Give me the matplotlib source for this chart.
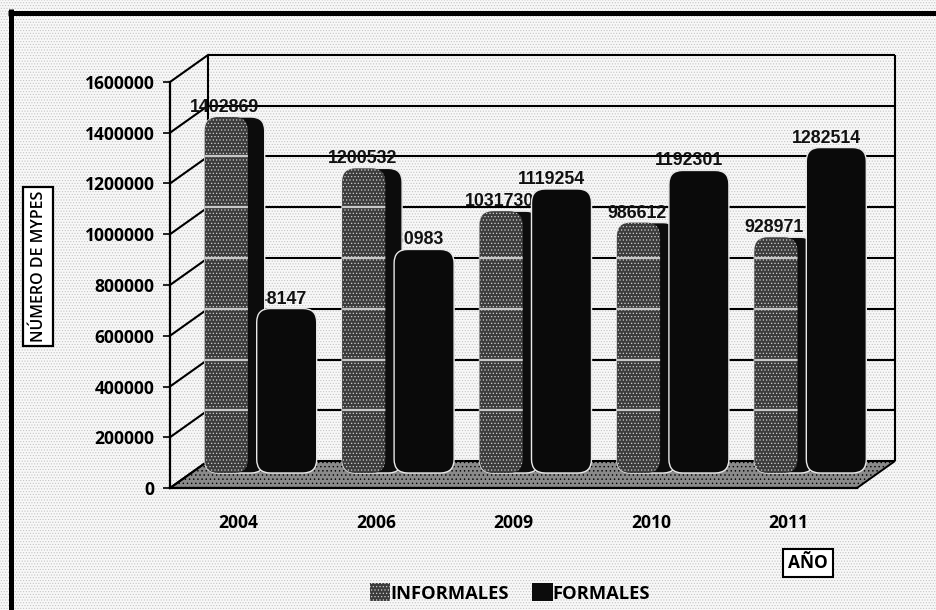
import matplotlib
matplotlib.use('Agg')
import matplotlib.pyplot as plt
from matplotlib.lines import Line2D
from matplotlib.patches import FancyBboxPatch, Patch, Polygon, Rectangle
from matplotlib.transforms import Affine2D, IdentityTransform

years = ['2004', '2006', '2009', '2010', '2011']
informales = [1402869, 1200532, 1031730, 986612, 928971]
formales = [648147, 880983, 1119254, 1192301, 1282514]
y_ticks = [0, 200000, 400000, 600000, 800000, 1000000, 1200000, 1400000, 1600000]

W, H = 936, 610
# front plane of the 3D box, in pixels
LEFT, RIGHT, BOTTOM, TOP = 170, 857, 488, 82
DEPTH_X, DEPTH_Y = 38, 27
BAR_DX, BAR_DY = 20, 15
YMAX = 1600000
AXIS_FONT = 'Open Sans'
LABEL_FONT = 'Liberation Sans'


def fx(px):
    return px / W


def fy(py):
    return (H - py) / H


plt.rcParams['hatch.linewidth'] = 0.5

fig = plt.figure(figsize=(W / 100, H / 100), dpi=100, facecolor='white')

# grainy paper behind everything
fig.add_artist(Rectangle((0, 0), 1, 1, transform=fig.transFigure, facecolor='#f8f8f8',
                         edgecolor='#c4c4c4', hatch='......', linewidth=0, zorder=-5))
fig.add_artist(Line2D([fx(10.5), fx(10.5)], [0, fy(9)], color='black', lw=3.6, solid_capstyle='butt'))
fig.add_artist(Line2D([fx(8), 1], [fy(13), fy(13)], color='black', lw=3.6, solid_capstyle='butt'))

ax = fig.add_axes([fx(LEFT), fy(BOTTOM), (RIGHT - LEFT) / W, (BOTTOM - TOP) / H])
ax.set_xlim(0, len(years))
ax.set_ylim(0, YMAX)
ax.patch.set_alpha(0)
for side in ['top', 'right']:
    ax.spines[side].set_visible(False)
for side in ['left', 'bottom']:
    ax.spines[side].set_linewidth(1.6)

ax.set_yticks(y_ticks)
ax.set_yticklabels([str(v) for v in y_ticks], fontfamily=AXIS_FONT, fontweight='bold', fontsize=12.6)
ax.set_xticks([i + 0.5 for i in range(len(years))])
ax.set_xticklabels(years, fontfamily=AXIS_FONT, fontweight='bold', fontsize=12.6)
ax.tick_params(axis='y', length=5, width=1.2, pad=6)
ax.tick_params(axis='x', length=0, pad=19)

back = ax.transData + Affine2D().translate(DEPTH_X, DEPTH_Y)
bar_tr = ax.transData + Affine2D().translate(BAR_DX, BAR_DY)
n = len(years)

# floor
floor = [ax.transData.transform((0, 0)), ax.transData.transform((n, 0)),
         back.transform((n, 0)), back.transform((0, 0))]
ax.add_patch(Polygon(floor, closed=True, transform=IdentityTransform(), facecolor='#8a8a8a',
                     edgecolor='black', hatch='....', lw=1.4, clip_on=False, zorder=1))

# back wall grid and side wall diagonals
ax.hlines(y_ticks, 0, n, transform=back, color='black', lw=1.5, clip_on=False, zorder=1)
ax.vlines([0, n], 0, YMAX, transform=back, color='black', lw=1.5, clip_on=False, zorder=1)
for v in y_ticks:
    p0 = ax.transData.transform((0, v))
    p1 = back.transform((0, v))
    ax.add_line(Line2D([p0[0], p1[0]], [p0[1], p1[1]], transform=IdentityTransform(),
                       color='black', lw=1.5, clip_on=False, zorder=1))

# bars: rounded boxes, widths in category units
x_per_px = n / (RIGHT - LEFT)
y_per_px = YMAX / (BOTTOM - TOP)
aspect = y_per_px / x_per_px
inf_left, inf_w = -54 * x_per_px, 60 * x_per_px
for_left, for_w = -2 * x_per_px, 60 * x_per_px
round_size = 0.1


def rounded_bar(x, w, h, color, hatch, z):
    bar = FancyBboxPatch((x, 0), w, h, boxstyle=f'round,pad=0,rounding_size={round_size}',
                         mutation_aspect=aspect, transform=bar_tr, facecolor=color,
                         edgecolor='#e8e8e8', hatch=hatch, lw=1.0, clip_on=False, zorder=z)
    ax.add_patch(bar)
    return bar


for i in range(n):
    c = i + 0.5
    # dark right side of the informal bar, lighter textured left part on top of it
    base = rounded_bar(c + inf_left, inf_w, informales[i], '#0c0c0c', None, 4)
    shade = FancyBboxPatch((c + inf_left, 0), inf_w * 0.72, informales[i],
                           boxstyle=f'round,pad=0,rounding_size={round_size}', mutation_aspect=aspect,
                           transform=bar_tr, facecolor='#3c3c3c', edgecolor='#cfcfcf', hatch='.....',
                           lw=0, clip_on=False, zorder=4.1)
    ax.add_patch(shade)
    bands = ax.hlines(y_ticks[1:], c + inf_left - 0.2, c + inf_left + inf_w * 0.7, transform=back,
                      color='#c8c8c8', lw=1.6, zorder=4.2)
    bands.set_clip_path(shade)

    rounded_bar(c + for_left, for_w, formales[i], '#0a0a0a', None, 5)

    # labels sit behind the bars, so neighbours can cover their first or last digits
    for left, w, val in [(inf_left, inf_w, informales[i]), (for_left, for_w, formales[i])]:
        ax.annotate(str(val), (c + left + w / 2, val), xycoords=bar_tr, xytext=(-10, 9.5),
                    textcoords='offset pixels', ha='center', va='center', fontsize=12.8,
                    fontfamily=LABEL_FONT, fontweight='bold', color='#111111',
                    annotation_clip=False, zorder=3)

# axis titles in boxes
fig.add_artist(Rectangle((fx(23), fy(346)), 30 / W, 159 / H, transform=fig.transFigure,
                         facecolor='white', edgecolor='black', linewidth=1.6))
fig.text(fx(39.5), fy(266.5), 'NÚMERO DE MYPES', rotation=90, ha='center', va='center', fontsize=11.5,
         fontfamily=AXIS_FONT, fontweight='semibold')
box = dict(boxstyle='square,pad=0.3', facecolor='white', edgecolor='black', linewidth=1.5)
fig.text(fx(808), fy(563), 'AÑO', ha='center', va='center', fontsize=12.5,
         fontfamily=AXIS_FONT, fontweight='bold', bbox=box)

handles = [Patch(facecolor='#3c3c3c', edgecolor='#cfcfcf', hatch='.....', lw=0),
           Patch(facecolor='#0c0c0c', edgecolor='#e8e8e8', lw=0)]
fig.legend(handles, ['INFORMALES', 'FORMALES'], ncol=2, frameon=False, loc='center',
           bbox_to_anchor=(fx(510), fy(593)), prop={'family': AXIS_FONT, 'weight': 'bold', 'size': 13.2},
           handlelength=1.1, handleheight=1.1, handletextpad=0.0, columnspacing=1.3)

fig.savefig('out.png', dpi=100)
plt.close(fig)
